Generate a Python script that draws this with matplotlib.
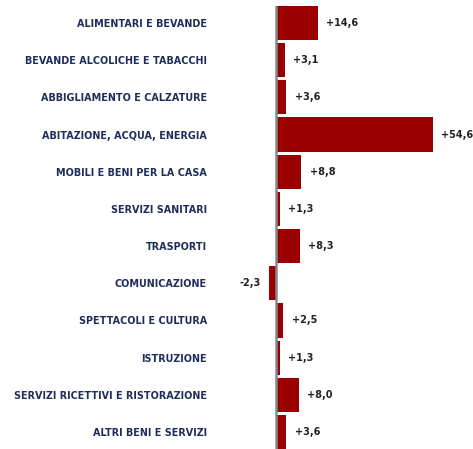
import matplotlib
matplotlib.use("Agg")
import matplotlib.pyplot as plt

categories = ["ALIMENTARI E BEVANDE", "BEVANDE ALCOLICHE E TABACCHI", "ABBIGLIAMENTO E CALZATURE",
              "ABITAZIONE, ACQUA, ENERGIA", "MOBILI E BENI PER LA CASA", "SERVIZI SANITARI",
              "TRASPORTI", "COMUNICAZIONE", "SPETTACOLI E CULTURA", "ISTRUZIONE",
              "SERVIZI RICETTIVI E RISTORAZIONE", "ALTRI BENI E SERVIZI"]
values = [14.6, 3.1, 3.6, 54.6, 8.8, 1.3, 8.3, -2.3, 2.5, 1.3, 8.0, 3.6]
value_labels = ["+14,6", "+3,1", "+3,6", "+54,6", "+8,8", "+1,3", "+8,3", "-2,3", "+2,5", "+1,3", "+8,0", "+3,6"]

W, H = 473, 449
fig = plt.figure(figsize=(W/100, H/100), dpi=100)
ax_l = 230
ax = fig.add_axes([ax_l/W, 0, (W-ax_l)/W, 1])
scale = 2.87
zero_px = 276
ax.set_xlim(-(zero_px-ax_l)/scale, (W-zero_px)/scale)
row_px = (432-23)/11
ax.set_ylim(11 + (H-432)/row_px, -23/row_px)

bar_color = "#9b0000"
pos = list(range(len(categories)))
ax.barh(pos, values, height=0.92, color=bar_color)
ax.axvline(0, ymin=0, ymax=(H-7)/H, color="#85888f", lw=1.8)

for y, v, lab in zip(pos, values, value_labels):
    if v >= 0:
        ax.annotate(lab, (v, y), xytext=(6, 0), textcoords="offset points",
                    ha="left", va="center", fontsize=7, fontweight="bold", color="#222222")
    else:
        ax.annotate(lab, (v, y), xytext=(-6, 0), textcoords="offset points",
                    ha="right", va="center", fontsize=7, fontweight="bold", color="#222222")

ax.set_yticks(pos)
ax.set_yticklabels(categories, fontsize=6.9, fontweight="bold", color="#1f2d5a")
ax.tick_params(axis="y", length=0, pad=(ax_l-207)*72/100)
ax.set_xticks([])
for s in ax.spines.values():
    s.set_visible(False)

fig.savefig("out.png", dpi=100)
